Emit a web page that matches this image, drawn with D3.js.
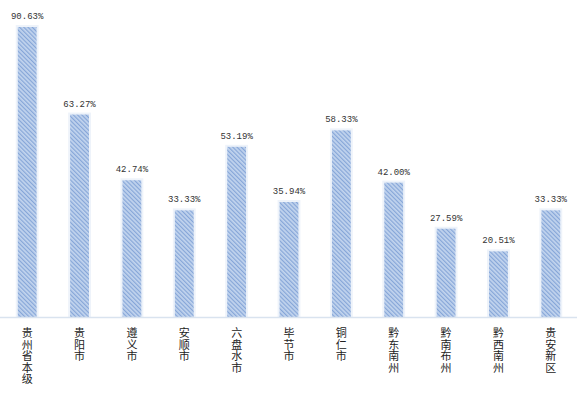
<!DOCTYPE html>
<html>
<head>
<meta charset="utf-8">
<style>
  body { margin: 0; background: #fff; }
  .val { font-family: "Liberation Mono", monospace; font-size: 9px; fill: #333; }
  .cat { font-family: "Noto Sans CJK SC", sans-serif; font-size: 11px; fill: #222; }
</style>
</head>
<body>
<script src="https://cdn.jsdelivr.net/npm/d3@7/dist/d3.min.js"></script>
<script>
var categories = ["贵州省本级", "贵阳市", "遵义市", "安顺市", "六盘水市", "毕节市", "铜仁市", "黔东南州", "黔南布州", "黔西南州", "贵安新区"];
var values = [90.63, 63.27, 42.74, 33.33, 53.19, 35.94, 58.33, 42.00, 27.59, 20.51, 33.33];
var labels = ["90.63%", "63.27%", "42.74%", "33.33%", "53.19%", "35.94%", "58.33%", "42.00%", "27.59%", "20.51%", "33.33%"];

var width = 577, height = 395;
var baseY = 317;

var svg = d3.select("body").append("svg")
  .attr("width", width).attr("height", height);

// hatch pattern
var defs = svg.append("defs");
var pat = defs.append("pattern")
  .attr("id", "hatch")
  .attr("patternUnits", "userSpaceOnUse")
  .attr("width", 3).attr("height", 3)
  .attr("patternTransform", "rotate(-45)");
pat.append("rect").attr("width", 3).attr("height", 3).attr("fill", "#c2d4ee");
pat.append("rect").attr("width", 1.2).attr("height", 3).attr("fill", "#86a6d8");

var x = d3.scaleBand().domain(categories).range([1, 577]).paddingInner(0.64).paddingOuter(0.32);
var y = d3.scaleLinear().domain([0, 90.63]).range([baseY, 27]);

// glow behind bars
svg.append("g").selectAll("rect")
  .data(values).enter().append("rect")
  .attr("x", function(d, i) { return x(categories[i]) - 2; })
  .attr("y", function(d) { return y(d) - 2; })
  .attr("width", x.bandwidth() + 4)
  .attr("height", function(d) { return baseY - y(d) + 2; })
  .attr("fill", "#eef3fa");

svg.append("g").selectAll("rect")
  .data(values).enter().append("rect")
  .attr("x", function(d, i) { return x(categories[i]); })
  .attr("y", function(d) { return y(d); })
  .attr("width", x.bandwidth())
  .attr("height", function(d) { return baseY - y(d); })
  .attr("fill", "url(#hatch)");

// axis line
svg.append("line")
  .attr("x1", 0).attr("x2", 577)
  .attr("y1", baseY + 0.5).attr("y2", baseY + 0.5)
  .attr("stroke", "#d9e3ef").attr("stroke-width", 1.5);

// value labels
svg.append("g").selectAll("text")
  .data(values).enter().append("text")
  .attr("class", "val")
  .attr("x", function(d, i) { return x(categories[i]) + x.bandwidth() / 2; })
  .attr("y", function(d) { return y(d) - 8; })
  .attr("text-anchor", "middle")
  .text(function(d, i) { return labels[i]; });

// vertical category labels, one character per line
var cat = svg.append("g").selectAll("text")
  .data(categories).enter().append("text")
  .attr("class", "cat")
  .attr("text-anchor", "middle")
  .attr("x", function(d) { return x(d) + x.bandwidth() / 2; });
cat.selectAll("tspan")
  .data(function(d) { return d.split(""); })
  .enter().append("tspan")
  .attr("x", function() { return d3.select(this.parentNode).attr("x"); })
  .attr("y", function(d, i) { return 337 + i * 11.5; })
  .text(function(d) { return d; });
</script>
</body>
</html>
